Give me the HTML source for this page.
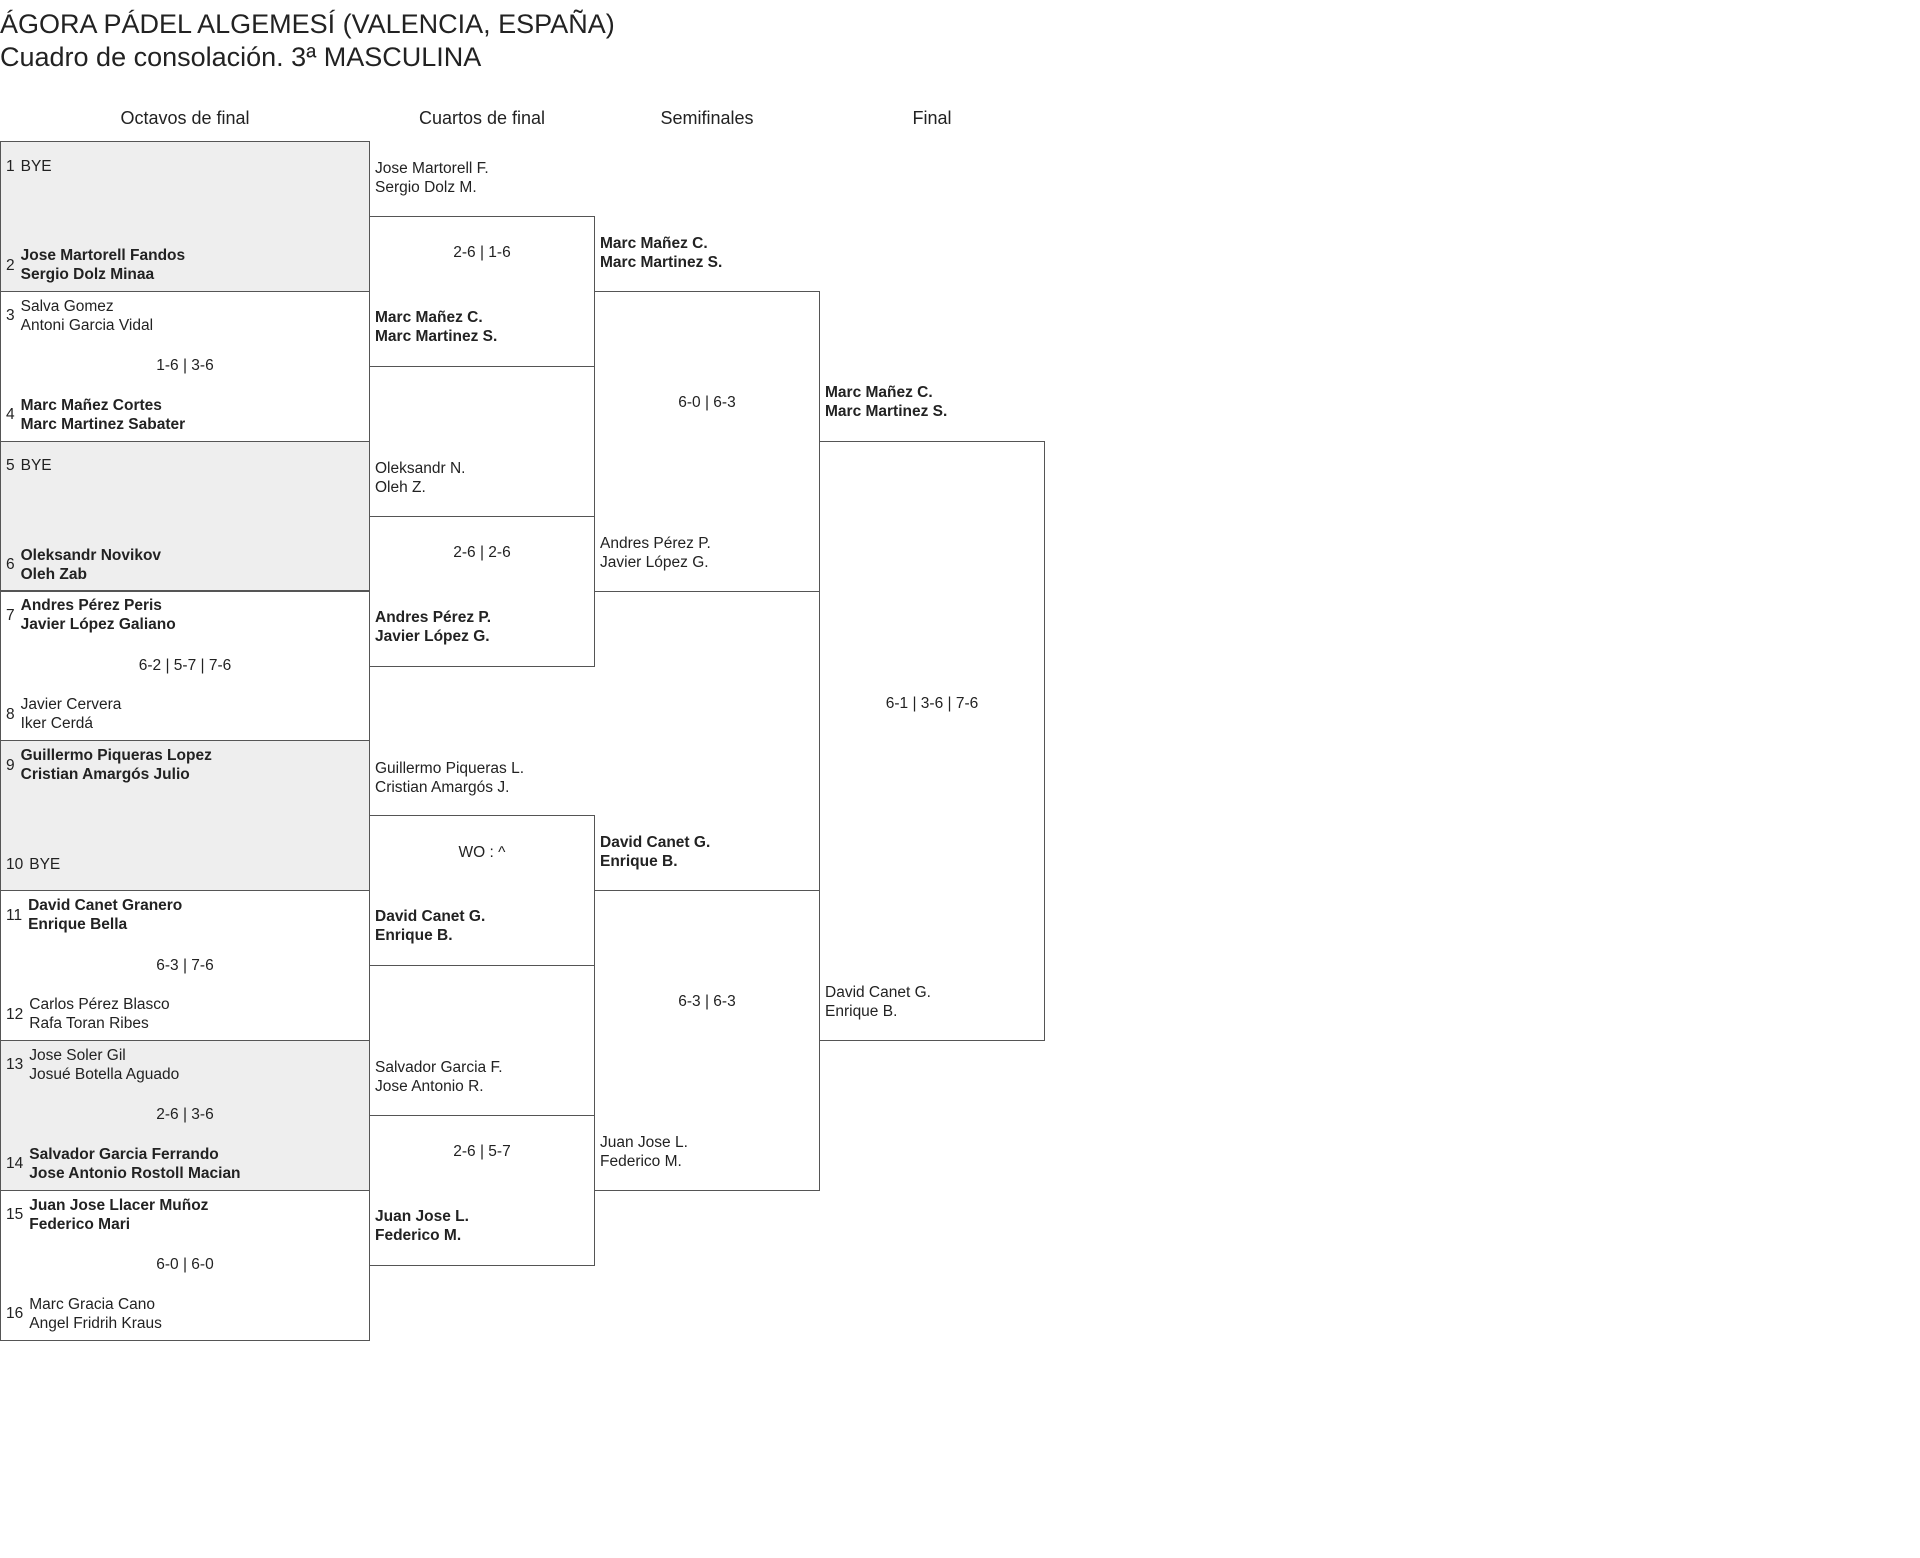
<!DOCTYPE html>
<html><head><meta charset="utf-8"><style>
body{margin:0;width:1920px;height:1558px;background:#fff;position:relative;font-family:"Liberation Sans",sans-serif;color:#222;overflow:hidden}
.a{position:absolute}
.b{position:absolute;border:1px solid #555;box-sizing:border-box}
.g{background:#eeeeee}
.n{position:absolute;font-size:15.5px;line-height:19px;white-space:nowrap}
.w{font-weight:600}
.r{position:absolute;left:6px;display:flex;align-items:center;font-size:15.5px;line-height:19px;white-space:nowrap}
.r span.num{display:inline-block;margin-right:6px}
.s{position:absolute;font-size:15.5px;line-height:19px;text-align:center;white-space:nowrap}
.h{position:absolute;top:108px;font-size:18px;text-align:center;width:300px}
</style></head><body>
<div class="a" style="left:0;top:8px;font-size:27px;line-height:33px">ÁGORA PÁDEL ALGEMESÍ (VALENCIA, ESPAÑA)<br>Cuadro de consolación. 3ª MASCULINA</div>
<div class="h" style="left:35px">Octavos de final</div>
<div class="h" style="left:332px">Cuartos de final</div>
<div class="h" style="left:557px">Semifinales</div>
<div class="h" style="left:782px">Final</div>

<div class="b g" style="left:0;top:141px;width:370px;height:151px"></div>
<div class="b" style="left:0;top:290.8px;width:370px;height:151px"></div>
<div class="b g" style="left:0;top:440.6px;width:370px;height:151px"></div>
<div class="b" style="left:0;top:590.4px;width:370px;height:151px"></div>
<div class="b g" style="left:0;top:740.2px;width:370px;height:151px"></div>
<div class="b" style="left:0;top:890px;width:370px;height:151px"></div>
<div class="b g" style="left:0;top:1039.8px;width:370px;height:151px"></div>
<div class="b" style="left:0;top:1189.6px;width:370px;height:151px"></div>

<div class="r" style="top:156.5px"><span class="num">1</span>BYE</div>
<div class="r" style="top:246px"><span class="num">2</span><span class="w">Jose Martorell Fandos<br>Sergio Dolz Minaa</span></div>

<div class="r" style="top:296.8px"><span class="num">3</span><span>Salva Gomez<br>Antoni Garcia Vidal</span></div>
<div class="s" style="left:0;width:370px;top:356.3px">1-6 | 3-6</div>
<div class="r" style="top:395.8px"><span class="num">4</span><span class="w">Marc Mañez Cortes<br>Marc Martinez Sabater</span></div>

<div class="r" style="top:456.1px"><span class="num">5</span>BYE</div>
<div class="r" style="top:545.6px"><span class="num">6</span><span class="w">Oleksandr Novikov<br>Oleh Zab</span></div>

<div class="r" style="top:596.4px"><span class="num">7</span><span class="w">Andres Pérez Peris<br>Javier López Galiano</span></div>
<div class="s" style="left:0;width:370px;top:655.9px">6-2 | 5-7 | 7-6</div>
<div class="r" style="top:695.4px"><span class="num">8</span><span>Javier Cervera<br>Iker Cerdá</span></div>

<div class="r" style="top:746.2px"><span class="num">9</span><span class="w">Guillermo Piqueras Lopez<br>Cristian Amargós Julio</span></div>
<div class="r" style="top:854.7px"><span class="num">10</span>BYE</div>

<div class="r" style="top:896px"><span class="num">11</span><span class="w">David Canet Granero<br>Enrique Bella</span></div>
<div class="s" style="left:0;width:370px;top:955.5px">6-3 | 7-6</div>
<div class="r" style="top:995px"><span class="num">12</span><span>Carlos Pérez Blasco<br>Rafa Toran Ribes</span></div>

<div class="r" style="top:1045.8px"><span class="num">13</span><span>Jose Soler Gil<br>Josué Botella Aguado</span></div>
<div class="s" style="left:0;width:370px;top:1105.3px">2-6 | 3-6</div>
<div class="r" style="top:1144.8px"><span class="num">14</span><span class="w">Salvador Garcia Ferrando<br>Jose Antonio Rostoll Macian</span></div>

<div class="r" style="top:1195.6px"><span class="num">15</span><span class="w">Juan Jose Llacer Muñoz<br>Federico Mari</span></div>
<div class="s" style="left:0;width:370px;top:1255.1px">6-0 | 6-0</div>
<div class="r" style="top:1294.6px"><span class="num">16</span><span>Marc Gracia Cano<br>Angel Fridrih Kraus</span></div>

<div class="b" style="left:369px;top:215.9px;width:226px;height:151px"></div>
<div class="b" style="left:369px;top:515.5px;width:226px;height:151px"></div>
<div class="b" style="left:369px;top:815.1px;width:226px;height:151px"></div>
<div class="b" style="left:369px;top:1114.7px;width:226px;height:151px"></div>

<div class="n" style="left:375px;top:159.4px">Jose Martorell F.<br>Sergio Dolz M.</div>
<div class="s" style="left:369px;width:226px;top:243.4px">2-6 | 1-6</div>
<div class="n w" style="left:375px;top:307.9px">Marc Mañez C.<br>Marc Martinez S.</div>

<div class="n" style="left:375px;top:459px">Oleksandr N.<br>Oleh Z.</div>
<div class="s" style="left:369px;width:226px;top:543px">2-6 | 2-6</div>
<div class="n w" style="left:375px;top:607.5px">Andres Pérez P.<br>Javier López G.</div>

<div class="n" style="left:375px;top:758.6px">Guillermo Piqueras L.<br>Cristian Amargós J.</div>
<div class="s" style="left:369px;width:226px;top:842.6px">WO : ^</div>
<div class="n w" style="left:375px;top:907.1px">David Canet G.<br>Enrique B.</div>

<div class="n" style="left:375px;top:1058.2px">Salvador Garcia F.<br>Jose Antonio R.</div>
<div class="s" style="left:369px;width:226px;top:1142.2px">2-6 | 5-7</div>
<div class="n w" style="left:375px;top:1206.7px">Juan Jose L.<br>Federico M.</div>

<div class="b" style="left:594px;top:290.7px;width:226px;height:301px"></div>
<div class="b" style="left:594px;top:889.9px;width:226px;height:301px"></div>
<div class="n w" style="left:600px;top:234px">Marc Mañez C.<br>Marc Martinez S.</div>
<div class="s" style="left:594px;width:226px;top:393.2px">6-0 | 6-3</div>
<div class="n" style="left:600px;top:533.7px">Andres Pérez P.<br>Javier López G.</div>

<div class="n w" style="left:600px;top:833.2px">David Canet G.<br>Enrique B.</div>
<div class="s" style="left:594px;width:226px;top:992.4px">6-3 | 6-3</div>
<div class="n" style="left:600px;top:1132.9px">Juan Jose L.<br>Federico M.</div>

<div class="b" style="left:819px;top:440.5px;width:226px;height:600px"></div>
<div class="n w" style="left:825px;top:383px">Marc Mañez C.<br>Marc Martinez S.</div>
<div class="s" style="left:819px;width:226px;top:693.5px">6-1 | 3-6 | 7-6</div>
<div class="n" style="left:825px;top:983px">David Canet G.<br>Enrique B.</div>
</body></html>
